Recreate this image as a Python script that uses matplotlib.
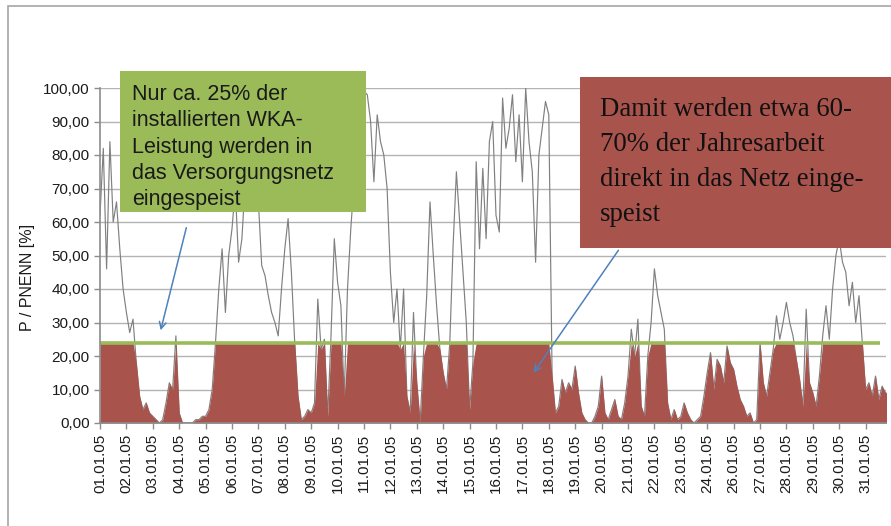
import matplotlib

matplotlib.use("Agg")

import matplotlib.pyplot as plt
import numpy as np
from matplotlib.patches import FancyArrowPatch, Rectangle
from matplotlib.ticker import FuncFormatter

# P / PNENN [%], 8 samples per day (3-hourly), 01.01 - 31.01
week1 = [
    [62, 82, 46, 84, 60, 66, 52, 40],
    [33, 27, 31, 18, 8, 4, 6, 3],
    [2, 1, 0, 1, 6, 12, 10, 26],
    [3, 0, 0, 0, 0, 1, 1, 2],
    [2, 4, 10, 24, 40, 52, 33, 50],
    [58, 70, 48, 55, 72, 78, 68, 75],
    [66, 47, 44, 38, 33, 30, 26, 40],
]
week2 = [
    [52, 61, 45, 24, 8, 1, 2, 4],
    [3, 6, 37, 22, 25, 2, 26, 55],
    [42, 35, 8, 40, 58, 72, 88, 96],
    [99, 98, 90, 72, 92, 84, 80, 70],
    [45, 30, 40, 22, 40, 8, 3, 33],
    [12, 0, 20, 38, 66, 50, 35, 22],
    [15, 10, 24, 53, 75, 60, 45, 30],
]
week3 = [
    [4, 18, 78, 52, 76, 55, 84, 90],
    [62, 57, 97, 82, 88, 98, 78, 92],
    [72, 100, 84, 75, 48, 80, 88, 96],
    [92, 14, 3, 5, 13, 9, 12, 10],
    [17, 9, 3, 1, 0, 0, 2, 5],
    [14, 3, 1, 4, 7, 2, 1, 6],
    [14, 28, 20, 31, 5, 2, 20, 30],
]
week4 = [
    [46, 38, 33, 28, 6, 1, 4, 1],
    [2, 6, 3, 1, 0, 1, 2, 8],
    [15, 21, 10, 19, 17, 12, 23, 18],
    [16, 11, 7, 5, 2, 3, 0, 1],
    [24, 12, 8, 15, 22, 32, 25, 30],
    [36, 30, 26, 19, 13, 5, 34, 12],
    [9, 5, 14, 26, 35, 25, 40, 50],
]
week5 = [
    [55, 48, 45, 35, 42, 30, 38, 24],
    [10, 12, 8, 14, 7, 11, 9, 10],
]

day_labels = [f"{d:02d}.01.05" for d in list(range(1, 25)) + list(range(26, 32))]
threshold = 24.0

W, H = 891, 526
RED = "#A9534D"
GREEN = "#9BBB59"
BLUE = "#4F81BD"


def fx(px):
    return px / W


def fy(py):
    return 1 - py / H


power = np.concatenate([np.ravel(w) for w in (week1, week2, week3, week4, week5)]).astype(float)
t = np.arange(len(power)) / 8.0

fig = plt.figure(figsize=(W / 100, H / 100), dpi=100)
fig.patch.set_facecolor("white")
fig.patches.append(Rectangle((fx(8), fy(530)), fx(900) - fx(8), fy(6) - fy(530),
                             transform=fig.transFigure, fill=False, edgecolor="#A6A6A6", lw=1.2))

ax = fig.add_axes([fx(100), fy(423), fx(886) - fx(100), fy(88) - fy(423)])
ax.plot(t, power, color="#808080", lw=0.85, zorder=2)
ax.fill_between(t, 0, np.minimum(power, threshold), color=RED, lw=0, zorder=3)
ax.hlines(threshold, 0, 29.55, color=GREEN, lw=2.6, zorder=4)

ax.set_xlim(0, 786 / 26.4)
ax.set_ylim(0, 100)
ax.set_yticks(np.arange(0, 101, 10))
ax.yaxis.set_major_formatter(FuncFormatter(lambda v, _: f"{v:.2f}".replace(".", ",")))
ax.set_xticks(np.arange(len(day_labels)))
ax.set_xticklabels(day_labels, rotation=90)
ax.grid(axis="y", color="#B3B3B3", lw=1.0, zorder=1)
ax.set_axisbelow(True)
for side in ("top", "right"):
    ax.spines[side].set_visible(False)
for side in ("left", "bottom"):
    ax.spines[side].set_color("#8C8C8C")
    ax.spines[side].set_linewidth(1.2)
    ax.spines[side].set_zorder(5)
ax.tick_params(axis="both", colors="#8C8C8C", length=4, width=1, labelcolor="#1A1A1A",
               labelsize=11)
for lab in ax.get_xticklabels() + ax.get_yticklabels():
    lab.set_family("Liberation Sans")
ax.set_ylabel("P / PNENN [%]", family="Liberation Sans", fontsize=11.5, color="#1A1A1A")
ax.yaxis.set_label_coords(-0.083, 0.436)

# annotation boxes
fig.patches.append(Rectangle((fx(120), fy(212)), fx(366) - fx(120), fy(71) - fy(212),
                             transform=fig.transFigure, facecolor=GREEN, edgecolor="none", zorder=6))
fig.text(fx(132), fy(84), "Nur ca. 25% der\ninstallierten WKA-\nLeistung werden in\ndas Versorgungsnetz\neingespeist",
         family="Liberation Sans", fontsize=15.5, color="#1A1A1A", ha="left", va="top",
         linespacing=1.33, zorder=7)

fig.patches.append(Rectangle((fx(580), fy(248)), fx(895) - fx(580), fy(77) - fy(248),
                             transform=fig.transFigure, facecolor=RED, edgecolor="none", zorder=6))
fig.text(fx(600), fy(97), "Damit werden etwa 60-\n70% der Jahresarbeit\ndirekt in das Netz einge-\nspeist",
         family="Liberation Serif", fontsize=19.3, color="#111111", ha="left", va="top",
         linespacing=1.52, zorder=7)

for start, end in [((187, 225), (160, 333)), ((620, 248), (532, 375))]:
    fig.patches.append(FancyArrowPatch((fx(start[0]), fy(start[1])), (fx(end[0]), fy(end[1])),
                                       transform=fig.transFigure, arrowstyle="->", color=BLUE,
                                       lw=1.1, mutation_scale=12, zorder=8))

fig.savefig("out.png", dpi=100)
